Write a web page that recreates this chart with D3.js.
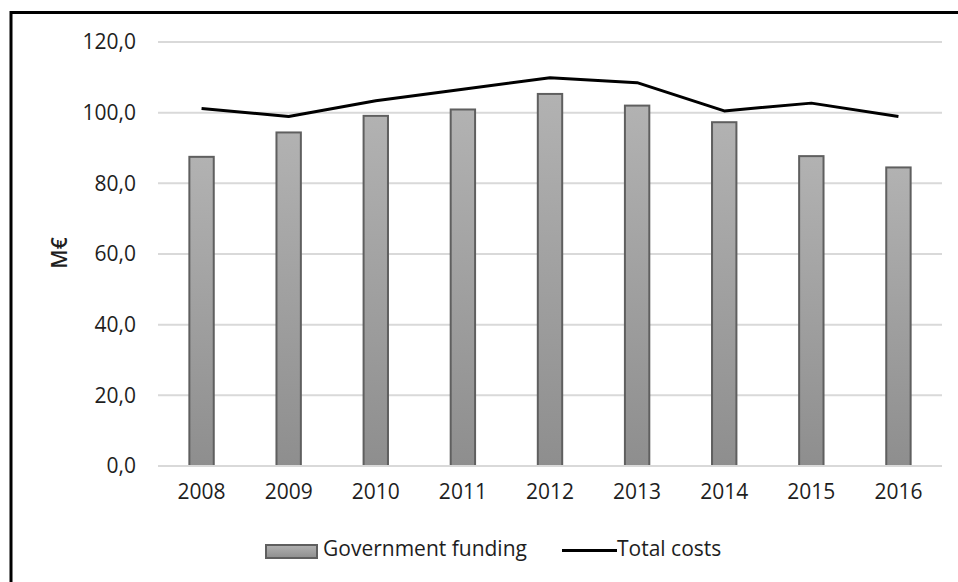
<!DOCTYPE html>
<html>
<head>
<meta charset="utf-8">
<script src="https://cdn.jsdelivr.net/npm/d3@7"></script>
<style>
  html, body { margin: 0; padding: 0; background: #fff; }
  svg { display: block; }
  text { font-family: "Open Sans", "Liberation Sans", sans-serif; fill: #1e1e1e; }
</style>
</head>
<body>
<script>
const years = ["2008","2009","2010","2011","2012","2013","2014","2015","2016"];
const governmentFunding = [87.5, 94.4, 99.1, 100.9, 105.3, 102.0, 97.3, 87.7, 84.5];
const totalCosts = [101.2, 98.9, 103.4, 106.6, 109.9, 108.5, 100.5, 102.7, 98.9];
const yTicks = [0, 20, 40, 60, 80, 100, 120];
const seriesNames = ["Government funding", "Total costs"];

const W = 958, H = 582;
const svg = d3.select("body").append("svg").attr("width", W).attr("height", H);

const defs = svg.append("defs");
const grad = defs.append("linearGradient").attr("id", "barGrad")
  .attr("x1", 0).attr("y1", 0).attr("x2", 0).attr("y2", 1);
grad.append("stop").attr("offset", "0%").attr("stop-color", "#b2b2b2");
grad.append("stop").attr("offset", "100%").attr("stop-color", "#8e8e8e");

// outer border (top and left visible)
svg.append("path").attr("d", `M11,${H + 5} L11,12.5 L${W + 5},12.5`)
  .attr("fill", "none").attr("stroke", "#000").attr("stroke-width", 3);

const x = d3.scaleBand().domain(years).range([158, 942]).paddingInner(0.72).paddingOuter(0.36);
const y = d3.scaleLinear().domain([0, 120]).range([466, 42]);

// gridlines
svg.append("g").selectAll("line").data(yTicks).join("line")
  .attr("x1", 158).attr("x2", 942)
  .attr("y1", d => y(d)).attr("y2", d => y(d))
  .attr("stroke", "#d9d9d9").attr("stroke-width", 2);

// y axis labels
const fmt = d => d3.format(".1f")(d).replace(".", ",");
const yAxis = d3.axisLeft(y).tickValues(yTicks).tickFormat(fmt).tickSize(0).tickPadding(22);
const gy = svg.append("g").attr("transform", "translate(158,0)").call(yAxis);
gy.select(".domain").remove();
gy.selectAll("text").style("font-size", "21px").attr("fill", "#1e1e1e")
  .style("font-family", '"Open Sans", sans-serif');

// bars
svg.append("g").selectAll("rect").data(years).join("rect")
  .attr("x", d => x(d))
  .attr("y", (d, i) => y(governmentFunding[i]))
  .attr("width", x.bandwidth())
  .attr("height", (d, i) => y(0) - y(governmentFunding[i]))
  .attr("fill", "url(#barGrad)")
  .attr("stroke", "#5f5f5f").attr("stroke-width", 2);

// x axis baseline
svg.append("line").attr("x1", 158).attr("x2", 942).attr("y1", y(0)).attr("y2", y(0))
  .attr("stroke", "#d9d9d9").attr("stroke-width", 2);

// x axis labels
const xAxis = d3.axisBottom(x).tickSize(0).tickPadding(18);
const gx = svg.append("g").attr("transform", `translate(0,${y(0)})`).call(xAxis);
gx.select(".domain").remove();
gx.selectAll("text").style("font-size", "21px").attr("fill", "#1e1e1e")
  .style("font-family", '"Open Sans", sans-serif');

// line
const line = d3.line()
  .x((d, i) => x(years[i]) + x.bandwidth() / 2)
  .y(d => y(d));
svg.append("path").datum(totalCosts).attr("d", line)
  .attr("fill", "none").attr("stroke", "#000").attr("stroke-width", 3)
  .attr("stroke-linejoin", "round").attr("stroke-linecap", "butt");

// y axis title
svg.append("text").attr("transform", "translate(67,253) rotate(-90)")
  .attr("text-anchor", "middle").style("font-size", "21px").style("font-weight", "600")
  .attr("fill", "#000").text("M€");

// legend
const lg = svg.append("g");
lg.append("rect").attr("x", 266).attr("y", 545).attr("width", 51).attr("height", 13)
  .attr("fill", "url(#barGrad)").attr("stroke", "#5f5f5f").attr("stroke-width", 2);
lg.append("text").attr("x", 323).attr("y", 556).style("font-size", "21px").text(seriesNames[0]);
lg.append("line").attr("x1", 562).attr("x2", 617).attr("y1", 550.5).attr("y2", 550.5)
  .attr("stroke", "#000").attr("stroke-width", 3);
lg.append("text").attr("x", 617).attr("y", 556).style("font-size", "21px").text(seriesNames[1]);
</script>
</body>
</html>
